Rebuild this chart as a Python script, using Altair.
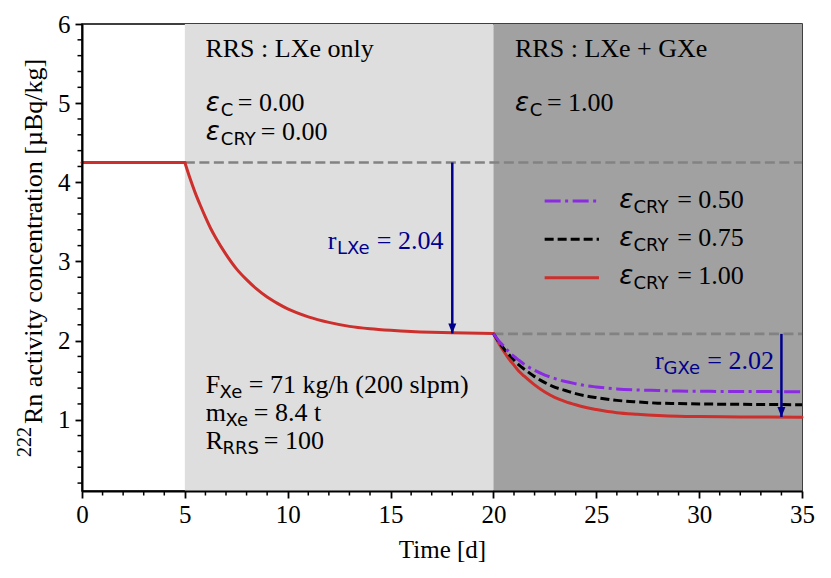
import altair as alt
import pandas as pd

# ---------------- data ----------------
t_flat = [0, 5]
v_flat = [4.25, 4.25]

t_lxe = [5, 5.25, 5.5, 5.75, 6, 6.25, 6.5, 7, 7.5, 8, 8.5, 9, 9.5, 10, 11, 12, 13, 14, 15, 16, 17, 18, 20]
v_lxe = [4.25, 4.05, 3.87, 3.71, 3.56, 3.42, 3.30, 3.09, 2.91, 2.77, 2.65, 2.55, 2.47, 2.40, 2.30, 2.23,
         2.18, 2.15, 2.13, 2.115, 2.105, 2.098, 2.09]

t_gxe = [20, 20.25, 20.5, 20.75, 21, 21.25, 21.5, 22, 22.5, 23, 23.5, 24, 24.5, 25, 26, 27, 28, 29, 30, 32, 35]
v_cry100 = [2.09, 1.97, 1.865, 1.77, 1.69, 1.61, 1.55, 1.44, 1.35, 1.28, 1.23, 1.19, 1.155, 1.13, 1.09, 1.07,
            1.055, 1.045, 1.04, 1.035, 1.033]
v_cry075 = [2.09, 1.99, 1.90, 1.825, 1.755, 1.69, 1.64, 1.545, 1.47, 1.41, 1.37, 1.33, 1.30, 1.28, 1.245, 1.225,
            1.21, 1.205, 1.20, 1.195, 1.19]
v_cry050 = [2.09, 2.00, 1.93, 1.86, 1.80, 1.75, 1.70, 1.625, 1.565, 1.52, 1.483, 1.455, 1.43, 1.415, 1.39, 1.377,
            1.37, 1.363, 1.36, 1.357, 1.355]

region_t0 = [5, 20]
region_t1 = [20, 35]
region_col = ["#dedede", "#a1a1a1"]

ref_t0 = [5, 20]
ref_t1 = [35, 35]
ref_v = [4.25, 2.085]

arrow_t = [18, 34]
arrow_top = [4.25, 2.085]
arrow_tip = [2.09, 1.035]

x_major = [0, 5, 10, 15, 20, 25, 30, 35]
x_minor = [1, 2, 3, 4, 6, 7, 8, 9, 11, 12, 13, 14, 16, 17, 18, 19, 21, 22, 23, 24, 26, 27, 28, 29, 31, 32, 33, 34]
y_major = [1, 2, 3, 4, 5, 6]
y_minor = [0.2, 0.4, 0.6, 0.8, 1.2, 1.4, 1.6, 1.8, 2.2, 2.4, 2.6, 2.8, 3.2, 3.4, 3.6, 3.8,
           4.2, 4.4, 4.6, 4.8, 5.2, 5.4, 5.6, 5.8]

NAVY = "#00008b"
RED = "#cc2f2c"
PURPLE = "#8a2be2"

# annotation texts: main serif pieces, epsilon glyphs, sans subscripts (data coordinates)
serif_t = [6.00, 21.05, 7.57, 8.69, 22.60, 6.02, 8.11, 6.02, 8.35, 6.02, 8.84, 11.95, 14.33, 27.85, 30.40,
           28.93, 28.93, 28.93]
serif_v = [5.58, 5.58, 4.90, 4.54, 4.90, 1.343, 1.343, 0.985, 0.985, 0.628, 0.628, 3.153, 3.153, 1.638, 1.638,
           3.677, 3.193, 2.71]
serif_txt = ["RRS : LXe only", "RRS : LXe + GXe", "= 0.00", "= 0.00", "= 1.00", "F", "= 71 kg/h (200 slpm)",
             "m", "= 8.4 t", "R", "= 100", "r", "= 2.04", "r", "= 2.02", "= 0.50", "= 0.75", "= 1.00"]
serif_col = ["black"] * 11 + [NAVY] * 4 + ["black"] * 3

eps_t = [6.02, 6.02, 21.05, 26.12, 26.12, 26.12]
eps_v = [4.90, 4.54, 4.90, 3.677, 3.193, 2.71]

sub_t = [6.75, 6.75, 21.77, 6.69, 6.97, 6.83, 12.39, 28.27, 26.81, 26.81, 26.81]
sub_v = [4.835, 4.475, 4.835, 1.28, 0.922, 0.565, 3.09, 1.575, 3.614, 3.130, 2.647]
sub_txt = ["C", "CRY", "C", "Xe", "Xe", "RRS", "LXe", "GXe", "CRY", "CRY", "CRY"]
sub_col = ["black"] * 6 + [NAVY] * 2 + ["black"] * 3

leg_t0 = [22.49, 22.49, 22.49]
leg_t1 = [25.13, 25.13, 25.13]
leg_v = [3.763, 3.279, 2.795]
leg_series = ["0.50", "0.75", "1.00"]

y_title_main = "Rn activity concentration [µBq/kg]"
y_title_sup = "222"

# ---------------- tables ----------------
red_df = pd.concat([
    pd.DataFrame({"t": t_flat, "v": v_flat, "seg": "a"}),
    pd.DataFrame({"t": t_lxe, "v": v_lxe, "seg": "b"}),
    pd.DataFrame({"t": t_gxe, "v": v_cry100, "seg": "c"}),
])
black_df = pd.DataFrame({"t": t_gxe, "v": v_cry075})
purple_df = pd.DataFrame({"t": t_gxe, "v": v_cry050})
region_df = pd.DataFrame({"t0": region_t0, "t1": region_t1, "col": region_col})
ref_df = pd.DataFrame({"t0": ref_t0, "t1": ref_t1, "v": ref_v})
arrow_df = pd.DataFrame({"t": arrow_t, "top": arrow_top, "tip": arrow_tip})
serif_df = pd.DataFrame({"t": serif_t, "v": serif_v, "text": serif_txt, "col": serif_col})
eps_df = pd.DataFrame({"t": eps_t, "v": eps_v, "text": ["ε"] * len(eps_t)})
sub_df = pd.DataFrame({"t": sub_t, "v": sub_v, "text": sub_txt, "col": sub_col})
leg_df = pd.DataFrame({"t0": leg_t0, "t1": leg_t1, "v": leg_v, "s": leg_series})
xminor_df = pd.DataFrame({"t": x_minor})
yminor_df = pd.DataFrame({"v": y_minor})
ytitle_df = pd.DataFrame({"main": [y_title_main], "sup": [y_title_sup]})

W, H = 720, 467
FONT = "Liberation Serif"

xs = alt.Scale(domain=[0, 35], nice=False, zero=False)
ys = alt.Scale(domain=[0.1, 6], nice=False, zero=False)


def X(f):
    return alt.X(f, type="quantitative", scale=xs, axis=None)


def Y(f):
    return alt.Y(f, type="quantitative", scale=ys, axis=None)


common_axis = dict(labelFont=FONT, labelFontSize=25, labelColor="black", titleFont=FONT, titleFontSize=25,
                   titleFontWeight="normal", titleColor="black", tickColor="black", tickWidth=1.8,
                   domainColor="black", domainWidth=2, grid=False, zindex=2, labelFlush=False,
                   labelOverlap=False, tickSize=7)

main_x = alt.Axis(values=x_major, title="Time [d]", orient="bottom", labelPadding=4,
                  titlePadding=10, **common_axis)
main_y = alt.Axis(values=y_major, title=None, orient="left", labelPadding=5, **common_axis)

regions = alt.Chart(region_df).mark_rect().encode(
    x=X("t0"), x2="t1", y=alt.value(0), y2=alt.value(H), color=alt.Color("col:N", scale=None))

refs = alt.Chart(ref_df).mark_rule(color="#828282", strokeDash=[10, 4.5], strokeWidth=2.6).encode(
    x=X("t0"), x2="t1", y=Y("v"))

red = alt.Chart(red_df).mark_line(color=RED, strokeWidth=3, interpolate="monotone", strokeCap="round").encode(
    x=alt.X("t:Q", scale=xs, axis=main_x), y=alt.Y("v:Q", scale=ys, axis=main_y), detail="seg:N")

black = alt.Chart(black_df).mark_line(color="black", strokeWidth=3, strokeDash=[9, 4], interpolate="monotone").encode(
    x=X("t"), y=Y("v"))

purple = alt.Chart(purple_df).mark_line(color=PURPLE, strokeWidth=3, strokeDash=[16, 4.5, 3, 4.5],
                                        interpolate="monotone").encode(x=X("t"), y=Y("v"))

arrow_line = alt.Chart(arrow_df).mark_rule(color=NAVY, strokeWidth=2.5).encode(x=X("t"), y=Y("top"), y2="tip")
arrow_head = alt.Chart(arrow_df).mark_point(shape="M-0.8,-2L0.8,-2L0,0Z", size=100, filled=True, color=NAVY,
                                            opacity=1).encode(x=X("t"), y=Y("tip"))

serif_text = alt.Chart(serif_df).mark_text(font=FONT, fontSize=26, align="left", baseline="alphabetic").encode(
    x=X("t"), y=Y("v"), text="text:N", color=alt.Color("col:N", scale=None))
eps_text = alt.Chart(eps_df).mark_text(font="DejaVu Sans", fontStyle="italic", fontSize=26, align="left",
                                       baseline="alphabetic", color="black").encode(
    x=X("t"), y=Y("v"), text="text:N")
sub_text = alt.Chart(sub_df).mark_text(font="DejaVu Sans", fontSize=18, align="left", baseline="alphabetic").encode(
    x=X("t"), y=Y("v"), text="text:N", color=alt.Color("col:N", scale=None))

leg_purple = alt.Chart(leg_df).transform_filter(alt.datum.s == "0.50").mark_rule(
    color=PURPLE, strokeWidth=3, strokeDash=[16, 4.5, 3, 4.5]).encode(x=X("t0"), x2="t1", y=Y("v"))
leg_black = alt.Chart(leg_df).transform_filter(alt.datum.s == "0.75").mark_rule(
    color="black", strokeWidth=3, strokeDash=[9, 4]).encode(x=X("t0"), x2="t1", y=Y("v"))
leg_red = alt.Chart(leg_df).transform_filter(alt.datum.s == "1.00").mark_rule(
    color=RED, strokeWidth=3).encode(x=X("t0"), x2="t1", y=Y("v"))

# minor ticks (outward, like matplotlib minor ticks)
xminor = alt.Chart(xminor_df).mark_rule(color="black", strokeWidth=1.5).encode(
    x=X("t"), y=alt.value(H), y2=alt.value(H + 4.5))
yminor = alt.Chart(yminor_df).mark_rule(color="black", strokeWidth=1.5).encode(
    y=Y("v"), x=alt.value(-4.5), x2=alt.value(0))

# y-axis title with a real superscript
ytitle_main = alt.Chart(ytitle_df).mark_text(font=FONT, fontSize=26, angle=270, align="left",
                                             baseline="alphabetic", color="black").encode(
    text="main:N", x=alt.value(-40), y=alt.value(400))
ytitle_sup = alt.Chart(ytitle_df).mark_text(font=FONT, fontSize=20, angle=270, align="left",
                                            baseline="alphabetic", color="black").encode(
    text="sup:N", x=alt.value(-51), y=alt.value(433))

chart = alt.layer(
    regions, refs, red, black, purple, arrow_line, arrow_head,
    serif_text, eps_text, sub_text, leg_purple, leg_black, leg_red, xminor, yminor,
    ytitle_main, ytitle_sup
).resolve_axis(x="independent", y="independent").properties(
    width=W, height=H,
    padding={"left": 74, "top": 16, "right": 21, "bottom": 85},
    autosize=alt.AutoSizeParams(type="none"),
    background="white",
).configure_view(stroke="black", strokeWidth=1.5)

chart.save("out.html", embed_options={"renderer": "svg", "actions": False})
